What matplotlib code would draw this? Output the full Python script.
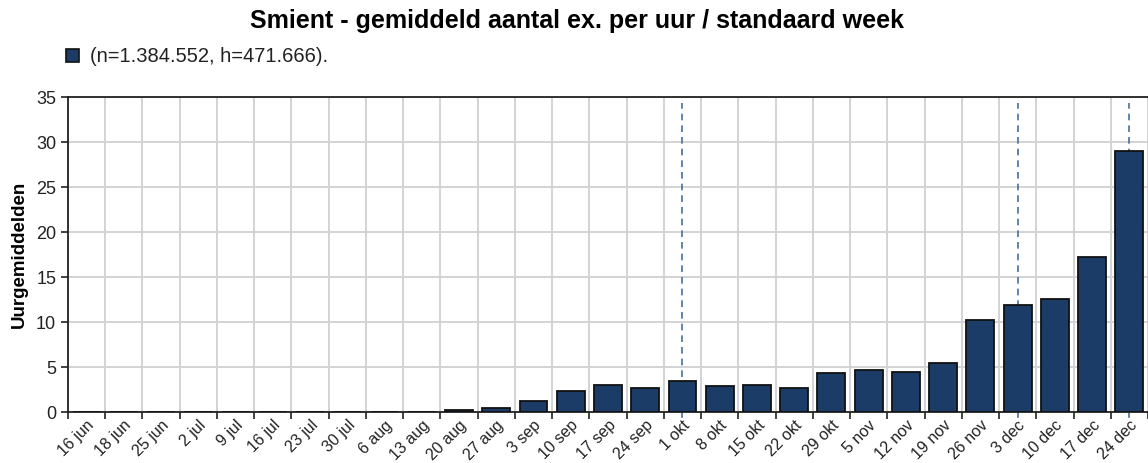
import numpy as np
import matplotlib
matplotlib.use('Agg')
import matplotlib.pyplot as plt

plt.rcParams['font.family'] = ['Liberation Sans', 'DejaVu Sans']

weeks = ['16 jun', '18 jun', '25 jun', '2 jul', '9 jul', '16 jul', '23 jul', '30 jul',
         '6 aug', '13 aug', '20 aug', '27 aug', '3 sep', '10 sep', '17 sep', '24 sep',
         '1 okt', '8 okt', '15 okt', '22 okt', '29 okt', '5 nov', '12 nov', '19 nov',
         '26 nov', '3 dec', '10 dec', '17 dec', '24 dec']
values = [0, 0, 0, 0, 0, 0, 0, 0, 0, 0,
          0.2, 0.5, 1.25, 2.3, 3.0, 2.65, 3.4, 2.85, 3.0, 2.65,
          4.35, 4.65, 4.5, 5.5, 10.25, 11.85, 12.6, 17.25, 29.0]
marked_weeks = ['1 okt', '3 dec', '24 dec']
legend_text = '(n=1.384.552, h=471.666).'

bar_color = '#1b3c66'
x = np.arange(len(weeks))

fig = plt.figure(figsize=(11.48, 4.63), dpi=100)
ax = fig.add_axes([0.0592, 0.110, 0.9408, 0.680])

# dashed markers behind the bars
for w in marked_weeks:
    i = weeks.index(w)
    ax.plot([i, i], [0, 34.4], color='#4a6e9a', linestyle=(0, (4, 3)), linewidth=1.2, zorder=1)
    ax.plot([i, i], [0, -0.55], color='#4a6e9a', linewidth=1.2, zorder=1, clip_on=False)

ax.bar(x, values, width=0.75, color=bar_color, edgecolor='#111111', linewidth=1.3, zorder=3)

ax.set_xlim(-0.5, len(weeks) - 0.5)
ax.set_ylim(0, 35)
ax.set_yticks(range(0, 36, 5))
ax.set_xticks(np.arange(len(weeks) + 1) - 0.5)
ax.set_xticklabels([])
ax.set_xticks(x, minor=True)
ax.set_xticklabels(weeks, minor=True, rotation=45, ha='right', rotation_mode='anchor',
                   fontsize=11.5, color='#222222')
ax.tick_params(axis='x', which='minor', length=0, pad=4)
ax.tick_params(axis='x', which='major', length=5, width=1.2, color='#222222')
ax.tick_params(axis='y', length=5, width=1.2, color='#222222', labelsize=13, labelcolor='#222222')

ax.grid(True, which='major', color='#d3d3d3', linewidth=1.4, zorder=0)
ax.set_axisbelow(True)
for s in ['left', 'top', 'bottom']:
    ax.spines[s].set_color('#222222')
    ax.spines[s].set_linewidth(1.3)
ax.spines['right'].set_visible(False)

ax.set_ylabel('Uurgemiddelden', fontsize=13.5, fontweight='bold', labelpad=6)

fig.text(0.503, 0.955, 'Smient - gemiddeld aantal ex. per uur / standaard week',
         ha='center', va='center', fontsize=18, fontweight='bold')
fig.patches.append(plt.Rectangle((66 / 1148, 1 - 62 / 463), 13 / 1148, 13 / 463,
                                 transform=fig.transFigure, facecolor=bar_color,
                                 edgecolor='#111111', linewidth=1.2))
fig.text(90 / 1148, 1 - 56 / 463, legend_text, ha='left', va='center', fontsize=14.5, color='#222222')

plt.savefig('out.png', dpi=100)
